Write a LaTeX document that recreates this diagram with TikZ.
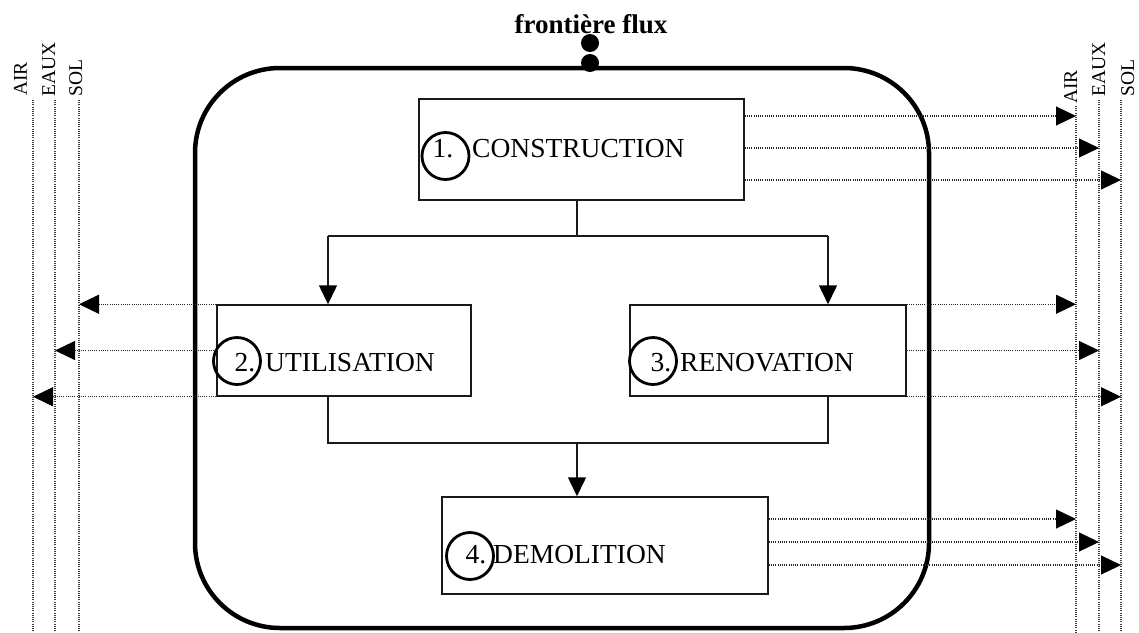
\documentclass[tikz,border=0pt]{standalone}
\usepackage{fontspec}
\setmainfont{Liberation Serif}
\usetikzlibrary{arrows.meta}
\begin{document}
\begin{tikzpicture}[x=1pt,y=-1pt,
  box/.style={draw=black!90,line width=1.5pt,inner sep=0pt},
  numcirc/.style={circle,draw=black,line width=2.8pt,minimum size=47pt,inner sep=0pt},
  lbl/.style={font=\fontsize{27.5}{30}\selectfont,inner sep=0pt,anchor=base west},
  num/.style={font=\fontsize{27.5}{30}\selectfont,inner sep=0pt,anchor=base},
  flowline/.style={draw=black!90,line width=1.5pt},
  flow/.style={flowline,-{Triangle[length=19pt,width=18pt,color=black]}},
  medium/.style={draw=black!75,line width=1.1pt,dash pattern=on 1pt off 1.2pt},
  emit/.style={draw=black!85,line width=1.2pt,dash pattern=on 1pt off 1.2pt,-{Triangle[length=20pt,width=19pt,color=black]}},
  medlbl/.style={font=\fontsize{19.5}{20}\selectfont,rotate=90,inner sep=0pt,anchor=base west},
  dot/.style={circle,fill=black,minimum size=18pt,inner sep=0pt}]
\useasboundingbox (0,0) rectangle (1139,632);

% system boundary
\draw[line width=4.5pt,rounded corners=85pt] (195,68) rectangle (929,628);
\node[font=\bfseries\fontsize{27}{29}\selectfont,anchor=base,inner sep=0pt] (title) at (591,33) {frontière flux};
\node[dot] (d1) at (590,43) {};
\node[dot] (d2) at (590,63) {};

% media lines
\coordinate (bot) at (0,632);
\coordinate (LA) at (33,100);
\coordinate (LE) at (55,100);
\coordinate (LS) at (79,100);
\coordinate (RA) at (1076,106);
\coordinate (RE) at (1099,100);
\coordinate (RS) at (1121,100);
\foreach \c in {LA,LE,LS,RA,RE,RS} \draw[medium] (\c) -- (\c |- bot);
\node[medlbl] (tLA) at (27,96) {AIR};
\node[medlbl] (tLE) at (55,97) {EAUX};
\node[medlbl] (tLS) at (82,97) {SOL};
\node[medlbl] (tRA) at (1077,104) {AIR};
\node[medlbl] (tRE) at (1105,97) {EAUX};
\node[medlbl] (tRS) at (1134,97) {SOL};

% boxes
\node[box,minimum width=325pt,minimum height=101pt] (con) at (581.5,149.5) {};
\node[box,minimum width=254pt,minimum height=91pt] (uti) at (344,350.5) {};
\node[box,minimum width=276pt,minimum height=91pt] (ren) at (768,350.5) {};
\node[box,minimum width=326pt,minimum height=97pt] (dem) at (605,545.5) {};

\node[numcirc] (c1) at (445.5,156) {};
\node[num] (n1) at (443,157) {1.};
\node[lbl] (l1) at (472,157) {CONSTRUCTION};
\node[numcirc] (c2) at (237,361) {};
\node[num] (n2) at (245,371) {2.};
\node[lbl] (l2) at (265,371) {UTILISATION};
\node[numcirc] (c3) at (653,361) {};
\node[num] (n3) at (661,371) {3.};
\node[lbl] (l3) at (680,371) {RENOVATION};
\node[numcirc] (c4) at (470,556) {};
\node[num] (n4) at (476,563) {4.};
\node[lbl] (l4) at (493,563) {DEMOLITION};

% process flow
\coordinate (j) at (577,236);
\coordinate (jl) at (328,236);
\coordinate (jr) at (828,236);
\draw[flowline] (con.south -| j) -- (j);
\draw[flowline] (jl) -- (jr);
\draw[flow] (jl) -- (jl |- uti.north);
\draw[flow] (jr) -- (jr |- ren.north);
\coordinate (k) at (577,443);
\coordinate (kl) at (328,443);
\coordinate (kr) at (828,443);
\draw[flowline] (uti.south -| kl) -- (kl) -- (kr) -- (ren.south -| kr);
\draw[flow] (k) -- (k |- dem.north);

% emissions
\draw[emit] ([yshift=33.5pt]con.east) coordinate (e1) -- (e1 -| RA);
\draw[emit] ([yshift=1.5pt]con.east) coordinate (e2) -- (e2 -| RE);
\draw[emit] ([yshift=-30.5pt]con.east) coordinate (e3) -- (e3 -| RS);
\draw[emit] (uti.north west) -- (uti.north west -| LS);
\draw[emit] (uti.west) -- (uti.west -| LE);
\draw[emit] (uti.south west) -- (uti.south west -| LA);
\draw[emit] (ren.north east) -- (ren.north east -| RA);
\draw[emit] (ren.east) -- (ren.east -| RE);
\draw[emit] (ren.south east) -- (ren.south east -| RS);
\draw[emit] ([yshift=26.5pt]dem.east) coordinate (f1) -- (f1 -| RA);
\draw[emit] ([yshift=3.5pt]dem.east) coordinate (f2) -- (f2 -| RE);
\draw[emit] ([yshift=-19.5pt]dem.east) coordinate (f3) -- (f3 -| RS);
\end{tikzpicture}
\end{document}
